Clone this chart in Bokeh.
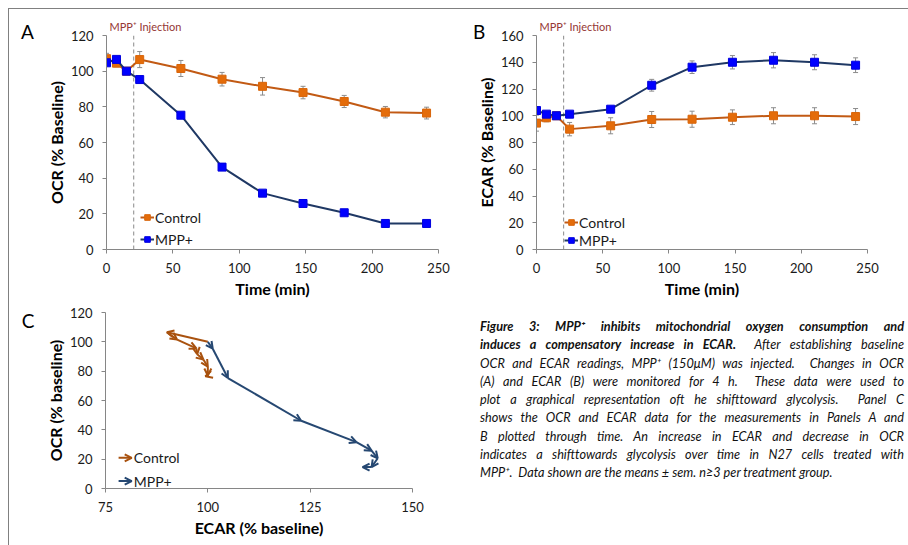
from bokeh.plotting import figure
from bokeh.models import (Range1d, FixedTicker, Whisker, TeeHead, Span, Label, Legend,
                          LegendItem, ColumnDataSource, Arrow, OpenHead, Div)
from bokeh.layouts import row, column
from bokeh.embed import file_html
from bokeh.resources import INLINE

# ---------------- data ----------------
time_min = [0, 7.5, 15, 25, 56, 87, 117.5, 148, 179, 210, 241]

ocr_control = [107, 104.5, 100, 106.5, 101.5, 95.5, 91.5, 88, 83, 77, 76.5]
ocr_control_err = [3, 2, 0, 4.5, 4.5, 3.8, 4.9, 3.5, 3.4, 3.2, 3.3]
ocr_mpp = [104.7, 106.6, 100, 95.3, 75.3, 46.2, 31.6, 25.8, 20.6, 14.6, 14.6]
ocr_mpp_err = [1.5, 1.0, 0, 1.0, 1.0, 1.0, 1.0, 1.0, 1.0, 1.0, 1.0]

ecar_control = [94.5, 98.5, 100, 90, 92.5, 97.2, 97.4, 98.9, 100, 100, 99.4]
ecar_control_err = [6, 3, 0, 5, 6, 6, 6, 5.5, 6, 6, 6]
ecar_mpp = [103.9, 101.2, 100, 101.2, 104.9, 122.8, 136.3, 140, 141.5, 140, 137.8]
ecar_mpp_err = [1.5, 1.5, 0, 1.5, 2, 4.4, 4.7, 5, 5.7, 5.6, 5.5]

injection_time = 20.5
c_start = 2  # panel C starts at the 15 min (baseline = 100 %) measurement

time_ticks = [0, 50, 100, 150, 200, 250]
ocr_ticks = [0, 20, 40, 60, 80, 100, 120]
ecar_ticks = [0, 20, 40, 60, 80, 100, 120, 140, 160]
ecar_ticks_c = [75, 100, 125, 150]

series_names = ["Control", "MPP+"]

caption_lines = [
    ("<b>Figure 3: MPP⁺ inhibits mitochondrial oxygen consumption and</b>", True),
    ("<b>induces a compensatory increase in ECAR.</b>&nbsp; After establishing baseline", True),
    ("OCR and ECAR readings, MPP⁺ (150μM) was injected.&nbsp; Changes in OCR", True),
    ("(A) and ECAR (B) were monitored for 4 h.&nbsp; These data were used to", True),
    ("plot a graphical representation oft he shifttoward glycolysis.&nbsp; Panel C", True),
    ("shows the OCR and ECAR data for the measurements in Panels A and", True),
    ("B plotted through time. An increase in ECAR and decrease in OCR", True),
    ("indicates a shifttowards glycolysis over time in N27 cells treated with", True),
    ("MPP⁺.&nbsp; Data shown are the means ± sem. n≥3 per treatment group.", False),
]

# ---------------- styles ----------------
FONT = "Lato"
CTRL_LINE = "#C25A14"
CTRL_MARK = "#E46C0A"
MPP_LINE = "#1F3864"
MPP_MARK = "#0000FF"
CTRL_ARROW = "#A9520F"
MPP_ARROW = "#264872"
AXIS_GREY = "#868686"
ERR_GREY = "#8C8C8C"
INJ_COLOR = "#953735"
TEXT = "#1A1A1A"


def make_fig(width, height, xr, yr, borders):
    left, right, top, bottom = borders
    p = figure(width=width, height=height, x_range=Range1d(*xr), y_range=Range1d(*yr),
               output_backend="svg", toolbar_location=None,
               min_border_left=left, min_border_right=right,
               min_border_top=top, min_border_bottom=bottom)
    p.outline_line_color = None
    p.xgrid.visible = False
    p.ygrid.visible = False
    p.background_fill_color = "white"
    p.border_fill_color = "white"
    return p


def style_axes(p, xticks, yticks, xlabel, ylabel):
    p.xaxis.ticker = FixedTicker(ticks=xticks)
    p.yaxis.ticker = FixedTicker(ticks=yticks)
    for ax in (p.xaxis[0], p.yaxis[0]):
        ax.axis_line_color = AXIS_GREY
        ax.major_tick_line_color = AXIS_GREY
        ax.minor_tick_line_color = None
        ax.major_tick_out = 4
        ax.major_tick_in = 0
        ax.major_label_text_font = FONT
        ax.major_label_text_font_size = "13px"
        ax.major_label_text_color = TEXT
        ax.major_label_standoff = 9
        ax.axis_label_text_font = FONT
        ax.axis_label_text_font_size = "16px"
        ax.axis_label_text_font_style = "bold"
        ax.axis_label_text_color = "black"
    p.xaxis.axis_label = xlabel
    p.yaxis.axis_label = ylabel
    p.xaxis.axis_label_standoff = 3
    p.yaxis.axis_label_standoff = 2


def panel_letter(p, text, xy):
    # placed in the left side panel so it is not clipped to the plot frame
    p.add_layout(Label(x=xy[0], y=xy[1], text=text, text_font=FONT,
                       text_font_size="19px", text_color="black", text_align="center",
                       text_baseline="middle"), "left")


def time_panel(width, borders, yr, yticks, ylabel, ctrl, ctrl_err, mpp, mpp_err,
               letter, letter_xy, inj_xy, leg_loc, leg_h):
    p = make_fig(width, 291, (0, 250), yr, borders)
    style_axes(p, time_ticks, yticks, "Time (min)", ylabel)

    p.add_layout(Span(location=injection_time, dimension="height", line_color="#8A8A8A",
                      line_dash="4 3", line_width=1, level="underlay"))

    for vals, errs in ((ctrl, ctrl_err), (mpp, mpp_err)):
        src = ColumnDataSource(dict(t=time_min,
                                    lo=[v - e for v, e in zip(vals, errs)],
                                    hi=[v + e for v, e in zip(vals, errs)]))
        w = Whisker(base="t", lower="lo", upper="hi", source=src, line_color=ERR_GREY,
                    line_width=1, level="underlay",
                    upper_head=TeeHead(size=5, line_color=ERR_GREY, line_width=1),
                    lower_head=TeeHead(size=5, line_color=ERR_GREY, line_width=1))
        p.add_layout(w)

    l1 = p.line(time_min, ctrl, line_color=CTRL_LINE, line_width=2)
    s1 = p.scatter(time_min, ctrl, marker="square", size=8, fill_color=CTRL_MARK,
                   line_color="#D8650A")
    l2 = p.line(time_min, mpp, line_color=MPP_LINE, line_width=2)
    s2 = p.scatter(time_min, mpp, marker="square", size=8, fill_color=MPP_MARK,
                   line_color="#0000DD")

    legend = Legend(items=[LegendItem(label=series_names[0], renderers=[l1, s1]),
                           LegendItem(label=series_names[1], renderers=[l2, s2])],
                    location=leg_loc, orientation="vertical",
                    label_text_font=FONT, label_text_font_size="14px",
                    label_text_color=TEXT, glyph_width=14, glyph_height=leg_h,
                    label_height=leg_h, label_standoff=1, spacing=2 if leg_h == 20 else 0,
                    padding=0, margin=0, border_line_alpha=0, background_fill_alpha=0)
    p.add_layout(legend)

    panel_letter(p, letter, letter_xy)
    p.add_layout(Label(x=inj_xy[0], y=inj_xy[1], text="MPP⁺ Injection", text_font=FONT,
                       text_font_size="11px", text_color=INJ_COLOR, text_align="left",
                       text_baseline="middle"), "above")
    return p


pA = time_panel(451, (97, 22, 26, 51), (0, 120), ocr_ticks, "OCR (% Baseline)",
                ocr_control, ocr_control_err, ocr_mpp, ocr_mpp_err,
                "A", (-59.5, 122.5), (2.3, 125.1), (34, 0), 20)
pB = time_panel(440, (76, 33, 26, 51), (0, 160), ecar_ticks, "ECAR (% Baseline)",
                ecar_control, ecar_control_err, ecar_mpp, ecar_mpp_err,
                "B", (-43.4, 163.2), (2.3, 166.7), (28, 0), 18)

# ---------------- panel C ----------------
pC = make_fig(451, 239, (75, 150), (0, 120), (96, 48, 12, 48))
style_axes(pC, ecar_ticks_c, ocr_ticks, "ECAR (% baseline)", "OCR (% baseline)")

for ecar, ocr, col in ((ecar_control, ocr_control, CTRL_ARROW), (ecar_mpp, ocr_mpp, MPP_ARROW)):
    xs = ecar[c_start:]
    ys = ocr[c_start:]
    src = ColumnDataSource(dict(x0=xs[:-1], y0=ys[:-1], x1=xs[1:], y1=ys[1:]))
    pC.add_layout(Arrow(end=OpenHead(size=7, line_color=col, line_width=2),
                        x_start="x0", y_start="y0", x_end="x1", y_end="y1", source=src,
                        line_color=col, line_width=2))

for name, col, ly in ((series_names[0], CTRL_ARROW, 20.9), (series_names[1], MPP_ARROW, 5.1)):
    pC.add_layout(Arrow(end=OpenHead(size=7, line_color=col, line_width=2),
                        x_start=78.2, y_start=ly, x_end=81.4, y_end=ly,
                        line_color=col, line_width=2))
    pC.add_layout(Label(x=81.9, y=ly, text=name, text_font=FONT, text_font_size="14px",
                        text_color=TEXT, text_align="left", text_baseline="middle"))

panel_letter(pC, "C", (56.1, 114.4))

# ---------------- caption ----------------
line_html = []
for txt, just in caption_lines:
    align = "text-align:justify;text-align-last:justify;" if just else "text-align:left;"
    line_html.append(f'<div style="{align}white-space:nowrap;">{txt}</div>')
caption_html = (
    '<div style="margin-left:15px;margin-top:12px;width:424px;">'
    f'<div style="width:424px;font-family:Lato;font-style:italic;font-size:12.7px;'
    f'line-height:18.25px;color:#111;">{"".join(line_html)}</div></div>'
)
caption = Div(text=caption_html, width=440, height=237)

layout = column(row(pA, pB), row(pC, caption),
                styles={"margin-left": "8px", "margin-top": "8px",
                        "border-top": "1px solid #808080", "border-left": "1px solid #808080"})

open("out.html", "w").write(file_html(layout, INLINE))
